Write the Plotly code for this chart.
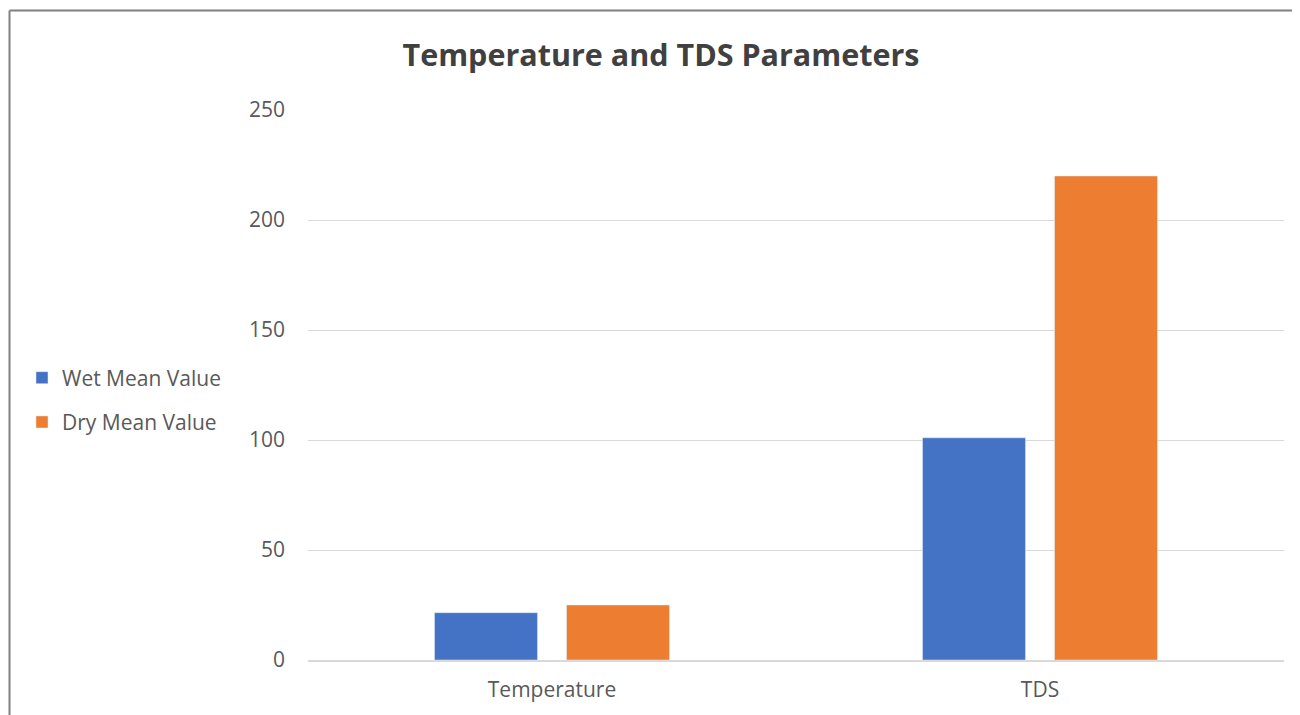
import plotly.graph_objects as go

categories = ["Temperature", "TDS"]
wet_values = [21.5, 101]
dry_values = [25, 220]
series_names = ["Wet Mean Value", "Dry Mean Value"]
tick_vals = [0, 50, 100, 150, 200, 250]

# page renders with an 8px body offset; compensate
OFF = 8
W, H = 1300, 715
L, R, T, B = 308 - OFF, 16 + OFF, 110 - OFF, 55 + OFF
pw, ph = W - L - R, H - T - B

def px_x(p):
    return (p - OFF - L) / pw

def px_y(p):
    return (H - B - (p - OFF)) / ph

fig = go.Figure()
fig.add_trace(go.Bar(x=categories, y=wet_values, name=series_names[0],
                     marker=dict(color="#4472C4"), legendgroup="a"))
fig.add_trace(go.Bar(x=categories, y=dry_values, name=series_names[1],
                     marker=dict(color="#ED7D31"), legendgroup="b"))

font_family = "'Open Sans', sans-serif"
fig.update_layout(
    width=W, height=H,
    margin=dict(l=L, r=R, t=T, b=B),
    paper_bgcolor="white", plot_bgcolor="white",
    barmode="group", bargap=0.459, bargroupgap=0.22,
    title=dict(text="<b>Temperature and TDS Parameters</b>",
               x=px_x(661), xref="paper", xanchor="center",
               y=1 - (55 - OFF) / H, yref="container", yanchor="middle",
               font=dict(family=font_family, size=30.5, color="#404040")),
    font=dict(family=font_family, size=21, color="#595959"),
    legend=dict(x=px_x(22), xanchor="left", y=px_y(400), yanchor="middle",
                font=dict(size=21, color="#595959"),
                tracegroupgap=14, itemwidth=30, bgcolor="rgba(0,0,0,0)"),
    yaxis=dict(range=[0, 250], tickvals=tick_vals, showgrid=True,
               gridcolor="#D9D9D9", gridwidth=1.3, zeroline=False,
               showline=False, ticks="",
               tickfont=dict(size=21, color="#595959")),
    xaxis=dict(showgrid=False, showline=True, linecolor="#D9D9D9", linewidth=1.5,
               ticks="", tickfont=dict(size=21, color="#595959")),
    showlegend=True,
)
fig.update_yaxes(ticklabelstandoff=22)
fig.update_xaxes(ticklabelstandoff=10)

# chart area border (left and top edges)
fig.add_shape(type="line", xref="paper", yref="paper",
              x0=px_x(9.5), x1=px_x(1320), y0=px_y(10.5), y1=px_y(10.5),
              line=dict(color="#808080", width=2))
fig.add_shape(type="line", xref="paper", yref="paper",
              x0=px_x(9.5), x1=px_x(9.5), y0=px_y(10.5), y1=px_y(730),
              line=dict(color="#808080", width=2))

fig.write_html("out.html")
